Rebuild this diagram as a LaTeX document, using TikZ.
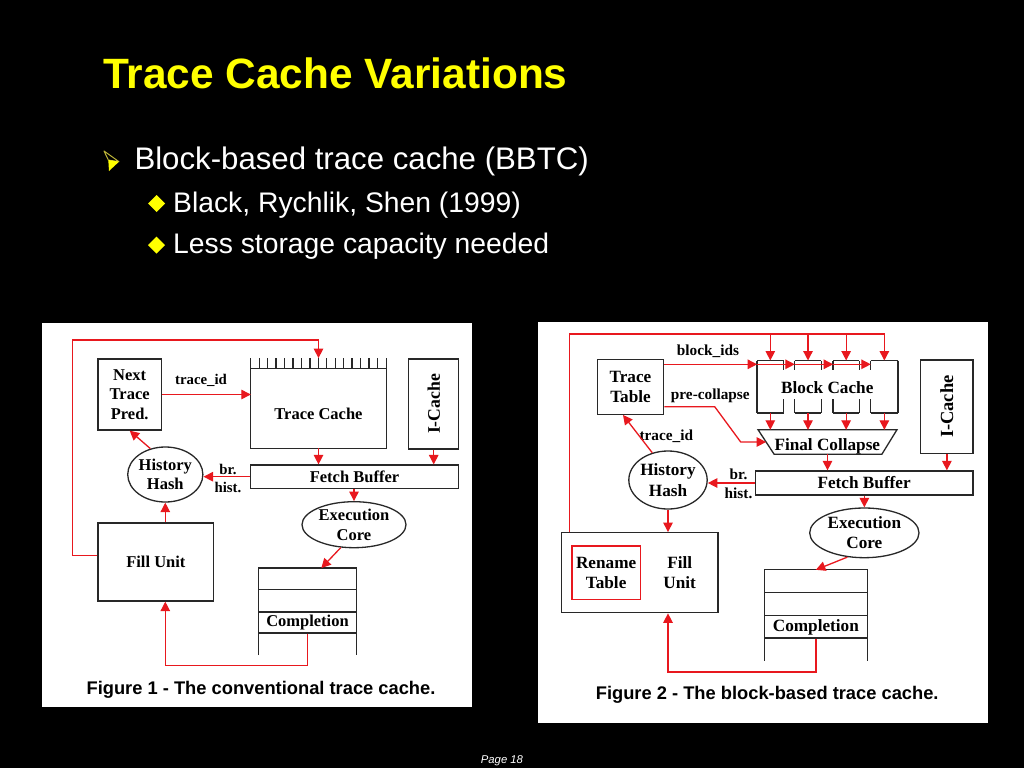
\documentclass[tikz,border=0pt]{standalone}
\usepackage{fontspec}
\setmainfont{Liberation Serif}
\newfontfamily\arialf{Liberation Sans}
\usetikzlibrary{arrows.meta,shapes.geometric}
\definecolor{redc}{RGB}{232,24,30}
\definecolor{boxc}{RGB}{40,40,40}
\definecolor{ttl}{RGB}{255,255,0}
\begin{document}
\begin{tikzpicture}[x=1pt,y=-1pt,
  boxline/.style={draw=boxc,line width=1.3pt},
  box/.style={draw=boxc,line width=1.3pt,inner sep=0pt,align=center},
  oval/.style={ellipse,draw=boxc,line width=1.3pt,inner sep=0pt,align=center},
  bare/.style={inner sep=0pt},
  rarr/.style={draw=redc,line width=1.3pt,-{Triangle[length=9.5pt,width=9.5pt]}},
  lblA/.style={font=\bfseries\fontsize{16.5}{19.5}\selectfont,align=center,inner sep=0pt},
  lblB/.style={font=\bfseries\fontsize{17.2}{20.4}\selectfont,align=center,inner sep=0pt},
  smA/.style={font=\bfseries\fontsize{14.8}{18}\selectfont,align=center,inner sep=0pt},
  smB/.style={font=\bfseries\fontsize{15.3}{19}\selectfont,align=center,inner sep=0pt},
  capt/.style={font=\arialf\bfseries\fontsize{18.3}{22}\selectfont,inner sep=0pt},
  slide/.style={font=\arialf,text=white,inner sep=0pt,anchor=base west}]
\fill[black] (0,0) rectangle (1024,768);
\useasboundingbox (0,0) rectangle (1024,768);
\fill[white] (42,323) rectangle (471.7,706.7);
\fill[white] (538.3,322) rectangle (988,722.7);

% ---------- slide text ----------
\node[slide,text=ttl,font=\arialf\bfseries\fontsize{42.4}{50}\selectfont] (title) at (103,88.3) {Trace Cache Variations};
\draw[yellow!70!black,line width=1pt,line join=round] (104,151) -- (119,161.7) -- (108.3,160) -- cycle;
\fill[ttl] (108.3,160) -- (119,161.7) -- (109,171) -- cycle;
\node[slide,font=\arialf\fontsize{31.2}{36}\selectfont] (b1) at (134.3,169.3) {Block-based trace cache (BBTC)};
\fill[ttl] (148,203.5) -- (156.5,195) -- (165,203.5) -- (156.5,212) -- cycle;
\node[slide,font=\arialf\fontsize{28.3}{33}\selectfont] (b2) at (173,212.3) {Black, Rychlik, Shen (1999)};
\fill[ttl] (148,245) -- (156.5,236.5) -- (165,245) -- (156.5,253.5) -- cycle;
\node[slide,font=\arialf\fontsize{28.3}{33}\selectfont] (b3) at (173,253.8) {Less storage capacity needed};
\node[slide,font=\arialf\itshape\fontsize{11.3}{13}\selectfont] (pg) at (480.7,763) {Page 18};

% ---------- Figure 1 ----------
\node[box,lblA,minimum width=63.3pt,minimum height=71pt] (ntp) at (129.7,394.5) {Next\\Trace\\Pred.};
\node[bare,minimum width=135pt,minimum height=89.7pt] (tc) at (318.5,403.15) {};
\draw[boxline] (tc.north west) -- (tc.south west) -- (tc.south east) -- (tc.north east);
\draw[boxline] ([yshift=-10.7pt]tc.north west) -- ([yshift=-10.7pt]tc.north east);
\foreach \i in {1,...,15} \draw[boxline] ([xshift=\i*8.4375pt]tc.north west) -- ++(0,10.7);
\node[lblA] (tct) at (318.5,414) {Trace Cache};
\node[box,minimum width=50pt,minimum height=90pt] (ic1) at (433.7,404) {};
\node[lblA,font=\bfseries\fontsize{17.7}{20}\selectfont,rotate=90] (ic1t) at (ic1) {I-Cache};
\node[box,lblA,minimum width=208.4pt,minimum height=23.3pt] (fb1) at (354.5,476.7) {Fetch Buffer};
\node[oval,lblA,minimum width=74pt,minimum height=55pt] (hh1) at (165.3,474.5) {History\\Hash};
\node[box,lblA,minimum width=115.7pt,minimum height=78pt] (fu1) at (155.85,562) {Fill Unit};
\node[oval,lblA,minimum width=104pt,minimum height=46pt] (ec1) at (354,524.7) {Execution\\Core};
\node[bare,minimum width=97.6pt,minimum height=86.7pt] (st1) at (307.5,611.65) {};
\draw[boxline] (st1.south west) -- (st1.north west) -- (st1.north east) -- (st1.south east);
\foreach \d in {21.7,44,65} \draw[boxline] ([yshift=-\d pt]st1.north west) -- ([yshift=-\d pt]st1.north east);
\node[lblA,minimum width=97.6pt,minimum height=21pt] (comp1) at (307.5,622.8) {Completion};
\node[smA] (tid1) at (201,380) {trace\_id};
\node[smA] (bh1) at (228,478) {br.\\hist.};
\coordinate (lt1) at (72.7,340);
\draw[rarr] ([yshift=6.3pt]fu1.west) -| (lt1) -| (tc.north);
\draw[rarr] (ntp.east) -- (ntp.east -| tc.west);
\draw[rarr] (tc.south) -- (tc.south |- fb1.north);
\draw[rarr] (ic1.south) -- (ic1.south |- fb1.north);
\draw[rarr] (fb1.west) -- (fb1.west -| hh1.east);
\draw[rarr] (hh1.120) -- (ntp.south);
\draw[rarr] (hh1.south |- fu1.north) -- (hh1.south);
\draw[rarr] (ec1.north |- fb1.south) -- (ec1.north);
\draw[rarr] (ec1.240) -- ([xshift=13.8pt]st1.north);
\draw[rarr] (comp1.south) -- ++(0,31.7) -| (hh1.south |- fu1.south);
\node[capt] (cap1) at (261,690) {Figure 1 - The conventional trace cache.};

% ---------- Figure 2 ----------
\node[box,lblB,minimum width=66.4pt,minimum height=55pt] (tt) at (630.5,386.8) {Trace\\Table};
\foreach \i/\x/\w in {1/770.3/26,2/808/26,3/846.15/25.7,4/884.35/26.7}
  \node[bare,minimum width=\w pt,minimum height=52pt] (col\i) at (\x,386.7) {};
\foreach \i in {1,...,4} {
  \draw[boxline] (col\i.north west) -- (col\i.north east);
  \draw[boxline] (col\i.south west) -- (col\i.south east);
  \draw[boxline] (col\i.north west) -- ++(0,9.3);
  \draw[boxline] (col\i.north east) -- ++(0,9.3);
  \draw[boxline] (col\i.south west) -- ++(0,-13.7);
  \draw[boxline] (col\i.south east) -- ++(0,-13.7);
}
\draw[boxline] (col1.north west) -- (col1.south west);
\draw[boxline] (col4.north east) -- (col4.south east);
\node[lblB] (bct) at (827.3,387.3) {Block Cache};
\node[bare,minimum width=138.4pt,minimum height=24pt] (fc) at (827.5,442) {};
\draw[boxline] (fc.north west) -- (fc.north east) -- ([xshift=-15pt]fc.south east) -- ([xshift=16pt]fc.south west) -- cycle;
\node[lblB] (fct) at (827.3,446) {Final Collapse};
\node[box,minimum width=52.3pt,minimum height=93.3pt] (ic2) at (946.85,406.65) {};
\node[lblB,font=\bfseries\fontsize{18.5}{21}\selectfont,rotate=90] (ic2t) at (ic2) {I-Cache};
\node[box,lblB,minimum width=217.7pt,minimum height=24pt] (fb2) at (864.15,483) {Fetch Buffer};
\node[oval,lblB,minimum width=77pt,minimum height=58pt] (hh2) at (668,480) {History\\Hash};
\node[box,minimum width=156.7pt,minimum height=80pt] (fu2) at (639.65,572.7) {};
\node[draw=redc,line width=1.3pt,lblB,minimum width=68.3pt,minimum height=53.3pt] (rt) at (606.15,572.65) {Rename\\Table};
\node[lblB] (fu2t) at (679.7,572.5) {Fill\\Unit};
\node[oval,lblB,minimum width=109.3pt,minimum height=49.7pt] (ec2) at (864.35,532.85) {Execution\\Core};
\node[bare,minimum width=102.3pt,minimum height=90.7pt] (st2) at (815.85,615.35) {};
\draw[boxline] (st2.south west) -- (st2.north west) -- (st2.north east) -- (st2.south east);
\foreach \d in {22.7,46,68.3} \draw[boxline] ([yshift=-\d pt]st2.north west) -- ([yshift=-\d pt]st2.north east);
\node[lblB,minimum width=102.3pt,minimum height=22.3pt] (comp2) at (815.85,627.15) {Completion};
\node[smB] (bid) at (708,351.7) {block\_ids};
\node[smB] (pcl) at (710.3,396) {pre-collapse};
\node[smB] (tid2) at (666.3,436.7) {trace\_id};
\node[smB] (bh2) at (738.5,483.5) {br.\\hist.};
\coordinate (rt1) at (600,334);
\coordinate (bcrow) at (700,364.3);
\coordinate (pc1) at (714.7,406.7);
\coordinate (pc2) at (740.7,442);
\draw[rarr] ([xshift=9pt]fu2.north west) |- (col4.north |- rt1) -- (col4.north);
\foreach \i in {1,2,3} \draw[rarr] (col\i.north |- rt1) -- (col\i.north);
\draw[rarr] (tt.east |- bcrow) -- (col1.west |- bcrow);
\draw[rarr] (col1.west |- bcrow) -- (col2.west |- bcrow);
\draw[rarr] (col2.west |- bcrow) -- (col3.west |- bcrow);
\draw[rarr] (col3.west |- bcrow) -- (col4.west |- bcrow);
\foreach \i in {1,...,4} \draw[rarr] (col\i.south) -- (col\i.south |- fc.north);
\draw[rarr] (tt.east |- pc1) -- (pc1) -- (pc2) -- ([xshift=8pt]fc.west);
\draw[rarr] (fc.south) -- (fc.south |- fb2.north);
\draw[rarr] (ic2.south) -- (ic2.south |- fb2.north);
\draw[rarr] (fb2.west) -- (fb2.west -| hh2.east);
\draw[rarr] (hh2.120) -- ([xshift=-7.5pt]tt.south);
\draw[rarr] (hh2.south) -- (hh2.south |- fu2.north);
\draw[rarr] (ec2.north |- fb2.south) -- (ec2.north);
\draw[rarr] (ec2.235) -- (st2.north);
\draw[rarr] (comp2.south) -- ++(0,33.4) -| (hh2.south |- fu2.south);
\node[capt] (cap2) at (767.2,695) {Figure 2 - The block-based trace cache.};
\end{tikzpicture}
\end{document}
